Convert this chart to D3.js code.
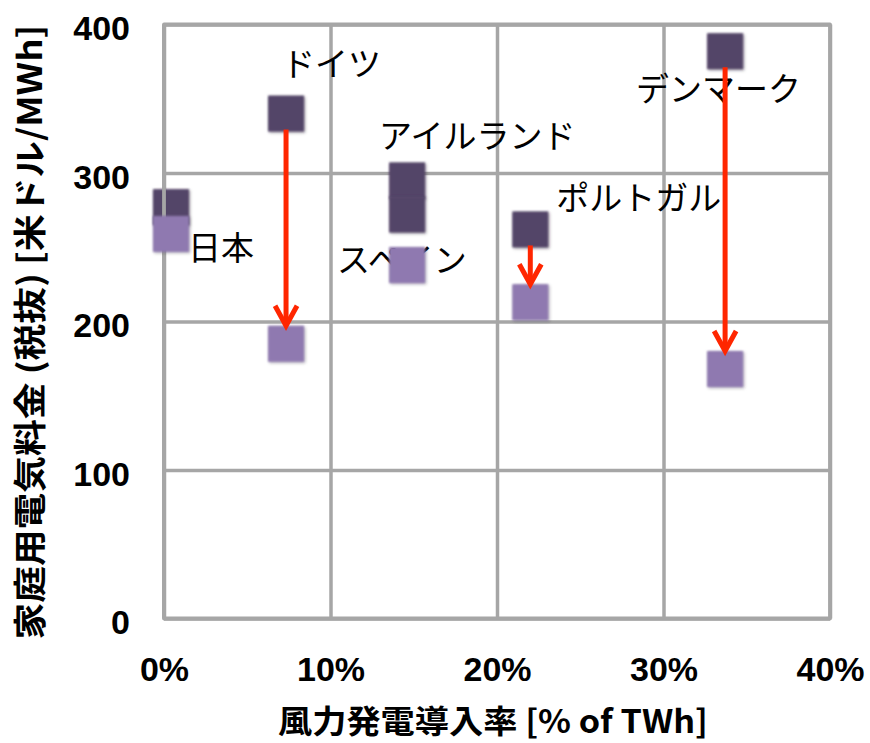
<!DOCTYPE html>
<html>
<head>
<meta charset="utf-8">
<script src="https://cdn.jsdelivr.net/npm/d3@7"></script>
<style>
  html, body { margin: 0; padding: 0; background: #ffffff; }
  svg { display: block; }
</style>
</head>
<body>
<svg id="chart" width="870" height="743"></svg>
<script>
// Wind-power share vs. household electricity price (before tax)
const countries   = ["日本", "ドイツ", "アイルランド", "スペイン", "ポルトガル", "デンマーク"];
const windShare   = [0.0042, 0.0733, 0.146, 0.146, 0.220, 0.337];
const priceHigh   = [277, 340, 295, 272, 262, 382];
const priceLow    = [259, 185, null, 238, 213, 168];
const arrowFor    = ["ドイツ", "ポルトガル", "デンマーク"];
const xTicks      = [0, 0.1, 0.2, 0.3, 0.4];
const yTicks      = [0, 100, 200, 300, 400];
const xTitle      = "風力発電導入率 [% of TWh]";
const yTitle      = "家庭用電気料金 (税抜) [米ドル/MWh]";

// label placement relative to the upper marker (pixels)
const labelNudge = {
  "日本":       [17, 39],
  "ドイツ":     [-4, -52],
  "アイルランド": [-28, -46],
  "スペイン":   [-70, 43],
  "ポルトガル": [26, -33],
  "デンマーク": [-89, 36]
};

const W = 870, H = 743;
const plot = { left: 164, right: 830, top: 24.5, bottom: 618.5 };
const gridColor = "#a6a6a6";
const darkColor = "#534468";
const lightColor = "#8f79b0";
const arrowColor = "#ff2600";
const markerSize = 36;
const latin = "'Liberation Sans', Arial, sans-serif";
const cjk = "'Noto Sans CJK JP', 'Liberation Sans', sans-serif";

const svg = d3.select("#chart");

const defs = svg.append("defs");
const shadow = defs.append("filter").attr("id", "mk").attr("x", "-20%").attr("y", "-20%")
  .attr("width", "150%").attr("height", "150%");
shadow.append("feGaussianBlur").attr("in", "SourceGraphic").attr("stdDeviation", 0.9).attr("result", "soft");
shadow.append("feDropShadow").attr("in", "soft").attr("dx", 1.2).attr("dy", 1.2)
  .attr("stdDeviation", 1.3).attr("flood-color", "#000").attr("flood-opacity", 0.35);

const x = d3.scaleLinear().domain([0, 0.4]).range([plot.left, plot.right]);
const y = d3.scaleLinear().domain([0, 400]).range([plot.bottom, plot.top]);

const rows = countries.map((c, i) => ({
  name: c, share: windShare[i], high: priceHigh[i], low: priceLow[i]
}));

// grid lines
const gx = svg.append("g")
  .attr("transform", `translate(0,${plot.bottom})`)
  .call(d3.axisBottom(x).tickValues(xTicks).tickSize(-(plot.bottom - plot.top)).tickFormat(""));
gx.select(".domain").remove();
gx.selectAll("line").attr("stroke", gridColor).attr("stroke-width", 3.5);

const gy = svg.append("g")
  .attr("transform", `translate(${plot.left},0)`)
  .call(d3.axisLeft(y).tickValues(yTicks).tickSize(-(plot.right - plot.left)).tickFormat(""));
gy.select(".domain").remove();
gy.selectAll("line").attr("stroke", gridColor).attr("stroke-width", 3.5);

// plot frame
svg.append("rect")
  .attr("x", plot.left).attr("y", plot.top)
  .attr("width", plot.right - plot.left).attr("height", plot.bottom - plot.top)
  .attr("fill", "none").attr("stroke", gridColor).attr("stroke-width", 3.8)
  .attr("stroke-linejoin", "round");

// tick labels
const xl = svg.append("g")
  .attr("transform", `translate(0,${plot.bottom})`)
  .call(d3.axisBottom(x).tickValues(xTicks).tickSize(0).tickPadding(38).tickFormat(d3.format(".0%")));
xl.select(".domain").remove();
xl.selectAll("text")
  .attr("fill", "#000").attr("font-family", latin).attr("font-weight", "bold")
  .attr("font-size", 34);

const yl = svg.append("g")
  .attr("transform", `translate(${plot.left},0)`)
  .call(d3.axisLeft(y).tickValues(yTicks).tickSize(0).tickPadding(34));
yl.select(".domain").remove();
yl.selectAll("text")
  .attr("fill", "#000").attr("font-family", latin).attr("font-weight", "bold")
  .attr("font-size", 34).attr("dy", "0.45em");

// axis titles
svg.append("text")
  .attr("x", 493).attr("y", 733)
  .attr("text-anchor", "middle")
  .attr("font-family", cjk).attr("font-weight", "bold").attr("font-size", 32)
  .attr("textLength", 430).attr("lengthAdjust", "spacingAndGlyphs")
  .text(xTitle);

svg.append("text")
  .attr("transform", "translate(42,332) rotate(-90)")
  .attr("text-anchor", "middle")
  .attr("font-family", cjk).attr("font-weight", "bold").attr("font-size", 33)
  .attr("textLength", 615).attr("lengthAdjust", "spacingAndGlyphs")
  .text(yTitle);

// country labels
svg.append("g").selectAll("text")
  .data(rows)
  .join("text")
  .attr("x", d => x(d.share) + labelNudge[d.name][0])
  .attr("y", d => y(d.high) + labelNudge[d.name][1])
  .attr("dominant-baseline", "central")
  .attr("font-family", cjk).attr("font-size", 33).attr("fill", "#000")
  .text(d => d.name);

// upper markers
svg.append("g").selectAll("rect")
  .data(rows)
  .join("rect")
  .attr("x", d => x(d.share) - markerSize / 2)
  .attr("y", d => y(d.high) - markerSize / 2)
  .attr("width", markerSize).attr("height", markerSize)
  .attr("fill", darkColor).attr("filter", "url(#mk)");

// left axis line sits above the upper markers
svg.append("line")
  .attr("x1", plot.left).attr("x2", plot.left)
  .attr("y1", plot.top).attr("y2", plot.bottom)
  .attr("stroke", gridColor).attr("stroke-width", 3.8);

// lower markers
svg.append("g").selectAll("rect")
  .data(rows.filter(d => d.low != null))
  .join("rect")
  .attr("x", d => x(d.share) - markerSize / 2)
  .attr("y", d => y(d.low) - markerSize / 2)
  .attr("width", markerSize).attr("height", markerSize)
  .attr("fill", lightColor).attr("filter", "url(#mk)");

// arrows from upper to lower marker
const arrows = svg.append("g")
  .selectAll("g")
  .data(rows.filter(d => arrowFor.includes(d.name) && d.low != null))
  .join("g");

arrows.append("line")
  .attr("x1", d => x(d.share)).attr("x2", d => x(d.share))
  .attr("y1", d => y(d.high) + markerSize / 2 - 2)
  .attr("y2", d => y(d.low) - markerSize / 2 - 3)
  .attr("stroke", arrowColor).attr("stroke-width", 5);

arrows.append("path")
  .attr("d", d => {
    const cx = x(d.share), tip = y(d.low) - markerSize / 2 + 1;
    return `M${cx - 11},${tip - 21}L${cx},${tip - 1}L${cx + 11},${tip - 21}`;
  })
  .attr("fill", "none").attr("stroke", arrowColor).attr("stroke-width", 5)
  .attr("stroke-linejoin", "miter").attr("stroke-linecap", "butt");
</script>
</body>
</html>
